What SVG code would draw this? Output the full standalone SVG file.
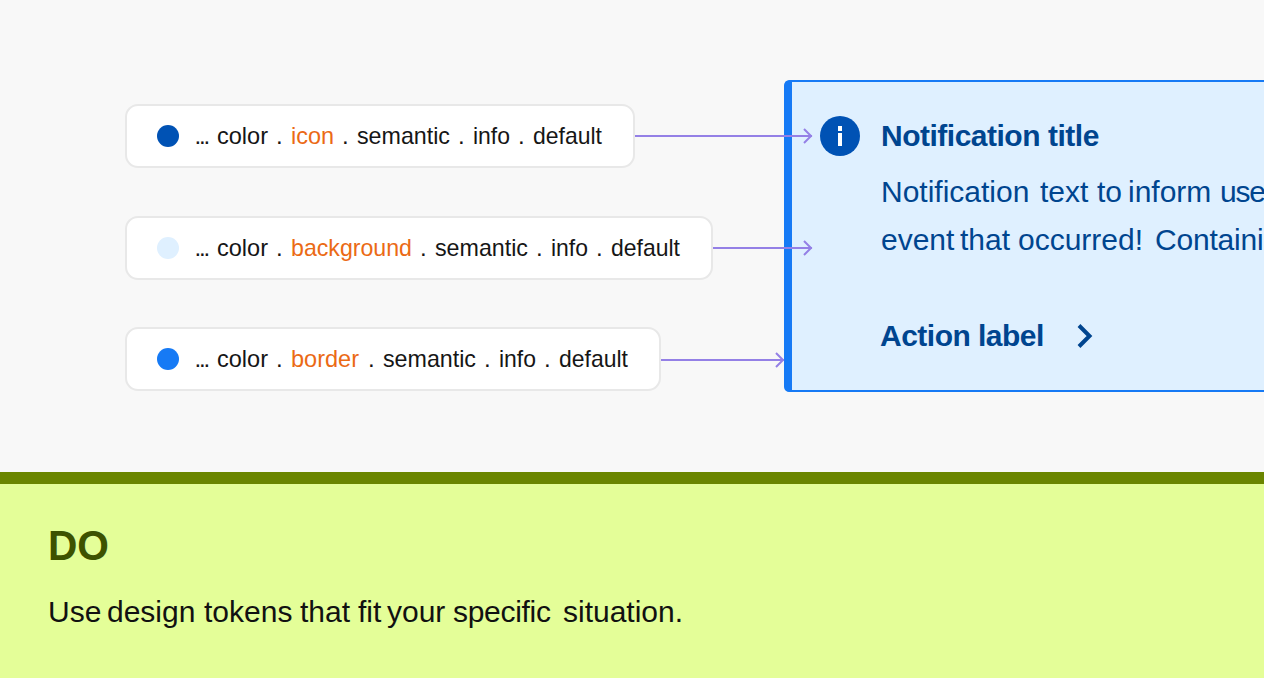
<svg xmlns="http://www.w3.org/2000/svg" width="1264" height="678" viewBox="0 0 1264 678">
<style>
text{font-family:"Liberation Sans",Arial,sans-serif}
.card{fill:#fff;stroke:#e8e8e8;stroke-width:2}
.t{font-size:24px;fill:#161616}
.o{font-size:24px;fill:#eb6a15}
.d{font-size:24px;fill:#161616;letter-spacing:-2.2px}
.conn{fill:none;stroke:#9480e6;stroke-width:2}
.n{fill:#00458f;font-size:30px}
.b{font-weight:700;letter-spacing:-.5px}
</style>
<defs>
<marker id="arr" markerUnits="userSpaceOnUse" markerWidth="12" markerHeight="18" refX="10" refY="8" orient="auto"><path d="M2 1L9 8L2 15" fill="none" stroke="#9480e6" stroke-width="2"/></marker>
</defs>
<rect width="1264" height="678" fill="#f8f8f8"/>
<g id="notification">
<rect x="785" y="81" width="500" height="310" rx="6" fill="#dff0ff" stroke="#167af5" stroke-width="2"/>
<path d="M790 80Q784 80 784 86V386Q784 392 790 392H792V80Z" fill="#167af5"/>
<circle cx="840" cy="136" r="20" fill="#0052b4"/>
<rect x="838" y="126" width="4" height="5" fill="#fff"/>
<rect x="838" y="133" width="4" height="13" fill="#fff"/>
<text class="n b" y="146"><tspan x="881">Notification</tspan><tspan x="1048">title</tspan></text>
<text class="n" y="202"><tspan x="881">Notification</tspan><tspan x="1040">text</tspan><tspan x="1097">to</tspan><tspan x="1128">inform</tspan><tspan x="1220" letter-spacing="-1.2">use</tspan></text>
<text class="n" y="250"><tspan x="881">event</tspan><tspan x="960">that</tspan><tspan x="1018">occurred!</tspan><tspan x="1155" letter-spacing="-.2">Containi</tspan></text>
<text class="n b" y="346"><tspan x="880">Action</tspan><tspan x="978">label</tspan></text>
<path d="M1079 325.500L1089.500 336L1079 346.500" fill="none" stroke="#00458f" stroke-width="4"/>
</g>
<g id="connectors">
<path class="conn" d="M635 136H812" marker-end="url(#arr)"/>
<path class="conn" d="M713 248H812" marker-end="url(#arr)"/>
<path class="conn" d="M661 360H784" marker-end="url(#arr)"/>
</g>
<g id="token-icon">
<rect class="card" x="126" y="105" width="508" height="62" rx="12"/>
<circle cx="168" cy="136" r="11" fill="#0052b4"/>
<text class="d" x="194.500" y="144">...</text><text class="t" x="217" y="144" textLength="51" lengthAdjust="spacingAndGlyphs">color</text><text class="t" x="276" y="144">.</text>
<text class="o" x="291" y="144" textLength="43" lengthAdjust="spacingAndGlyphs">icon</text><text class="t" x="342" y="144">.</text>
<text class="t" x="357" y="144" textLength="93" lengthAdjust="spacingAndGlyphs">semantic</text><text class="t" x="458" y="144">.</text>
<text class="t" x="473" y="144" textLength="37" lengthAdjust="spacingAndGlyphs">info</text><text class="t" x="518" y="144">.</text>
<text class="t" x="533" y="144" textLength="69" lengthAdjust="spacingAndGlyphs">default</text>
</g>
<g id="token-background">
<rect class="card" x="126" y="217" width="586" height="62" rx="12"/>
<circle cx="168" cy="248" r="11" fill="#dff0ff"/>
<text class="d" x="194.500" y="256">...</text><text class="t" x="217" y="256" textLength="51" lengthAdjust="spacingAndGlyphs">color</text><text class="t" x="276" y="256">.</text>
<text class="o" x="291" y="256" textLength="121" lengthAdjust="spacingAndGlyphs">background</text><text class="t" x="420" y="256">.</text>
<text class="t" x="435" y="256" textLength="93" lengthAdjust="spacingAndGlyphs">semantic</text><text class="t" x="536" y="256">.</text>
<text class="t" x="551" y="256" textLength="37" lengthAdjust="spacingAndGlyphs">info</text><text class="t" x="596" y="256">.</text>
<text class="t" x="611" y="256" textLength="69" lengthAdjust="spacingAndGlyphs">default</text>
</g>
<g id="token-border">
<rect class="card" x="126" y="328" width="534" height="62" rx="12"/>
<circle cx="168" cy="359" r="11" fill="#167af5"/>
<text class="d" x="194.500" y="367">...</text><text class="t" x="217" y="367" textLength="51" lengthAdjust="spacingAndGlyphs">color</text><text class="t" x="276" y="367">.</text>
<text class="o" x="291" y="367" textLength="68" lengthAdjust="spacingAndGlyphs">border</text><text class="t" x="368" y="367">.</text>
<text class="t" x="383" y="367" textLength="93" lengthAdjust="spacingAndGlyphs">semantic</text><text class="t" x="484" y="367">.</text>
<text class="t" x="499" y="367" textLength="37" lengthAdjust="spacingAndGlyphs">info</text><text class="t" x="544" y="367">.</text>
<text class="t" x="559" y="367" textLength="69" lengthAdjust="spacingAndGlyphs">default</text>
</g>
<g id="do-panel">
<rect y="472" width="1264" height="206" fill="#e4fe98"/>
<rect y="472" width="1264" height="12" fill="#6a8500"/>
<text x="48" y="560" font-size="43" font-weight="700" fill="#3d5200" textLength="61" lengthAdjust="spacingAndGlyphs">DO</text>
<text y="622" font-size="30" fill="#111"><tspan x="48">Use</tspan><tspan x="107">design</tspan><tspan x="204">tokens</tspan><tspan x="300">that</tspan><tspan x="358">fit</tspan><tspan x="387">your</tspan><tspan x="453" letter-spacing="-.3">specific</tspan><tspan x="563">situation.</tspan></text>
</g>
</svg>
